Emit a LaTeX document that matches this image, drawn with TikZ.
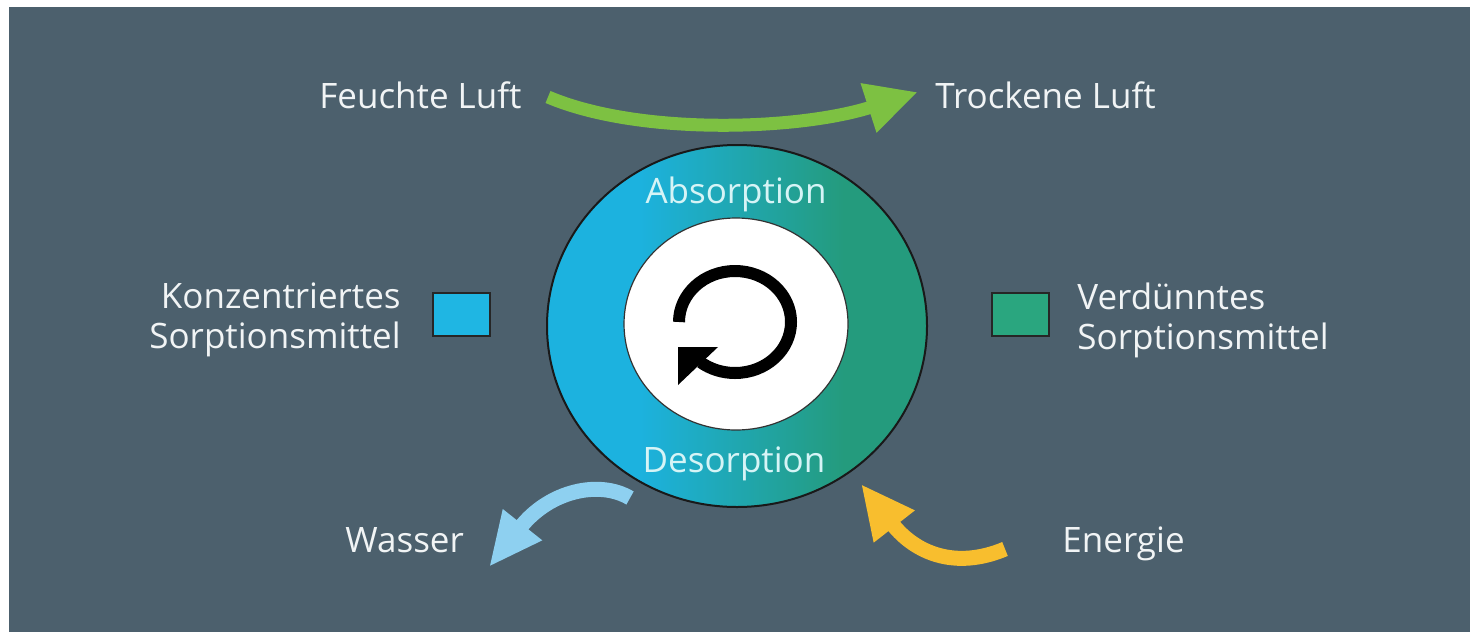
\documentclass[tikz,border=0pt]{standalone}
\usepackage{fontspec}
\setmainfont{Open Sans}
\usetikzlibrary{shapes.geometric,arrows.meta}

\definecolor{bgslate}{HTML}{4C606D}
\definecolor{labeltext}{HTML}{F1F4F5}
\definecolor{ringtext}{HTML}{D6F4F6}
\definecolor{ringblue}{HTML}{1CB2DF}
\definecolor{ringgreen}{HTML}{249B7D}
\definecolor{conc}{HTML}{1FB6E3}
\definecolor{dilute}{HTML}{2AA67F}
\definecolor{airgreen}{HTML}{7DC142}
\definecolor{waterblue}{HTML}{8ED0F0}
\definecolor{energyyellow}{HTML}{F8BE2E}

% blue-to-green ring fill; the path spans 25bp..75bp of the shading
\pgfdeclarehorizontalshading{ringshade}{100bp}{%
  color(0bp)=(ringblue); color(37bp)=(ringblue);
  color(64bp)=(ringgreen); color(100bp)=(ringgreen)}

\tikzset{
  lbl/.style={text=labeltext, inner sep=0pt, font=\fontsize{17.5}{20}\selectfont},
  phase/.style={text=ringtext, inner sep=0pt, font=\fontsize{17.5}{20}\selectfont},
  swatch/.style={draw=black!85, line width=1pt, minimum width=28.5pt, minimum height=21.5pt, inner sep=0pt},
}

\begin{document}
\begin{tikzpicture}[x=0.5pt,y=-0.5pt]
\useasboundingbox (0,0) rectangle (1470,632);
\fill[white] (0,0) rectangle (1470,632);
\fill[bgslate] (9,7) rectangle (1470,632);

% air stream
\node[lbl, anchor=base east] (humid) at (522,108) {Feuchte Luft};
\node[lbl, anchor=base west] (dry) at (935,108) {Trockene Luft};
\coordinate (airIn) at (548,97);
\coordinate (airOut) at (918,92);
\draw[airgreen, line width=6.5pt, -{Triangle[length=26pt,width=24pt]}]
  (airIn) .. controls (640,136) and (800,130) .. (airOut);

% sorption wheel
\node[ellipse, shading=ringshade, draw=black!90, line width=1pt,
      minimum width=190pt, minimum height=181pt, inner sep=0pt] (ring) at (737,326) {};
\node[ellipse, fill=white, draw=black!80, line width=0.6pt,
      minimum width=112pt, minimum height=106pt, inner sep=0pt] (core) at (736,324) {};
\node[phase, anchor=base] (abs) at (736,203) {Absorption};
\node[phase, anchor=base] (des) at (734,472) {Desorption};

% rotation symbol
\draw[black, line width=6pt] (735,322) ++(180:56 and 51)
  arc[start angle=180, end angle=488, x radius=56, y radius=51];
\fill[black] (678,347) -- (718,347) -- (678,385) -- cycle;

% legend
\node[swatch, fill=conc] (concBox) at (461.5,314.5) {};
\node[lbl, align=right, anchor=east] (concTxt) at (401,320) {Konzentriertes\\Sorptionsmittel};
\node[swatch, fill=dilute] (diluteBox) at (1020,314.5) {};
\node[lbl, align=left, anchor=west] (diluteTxt) at (1077,320) {Verdünntes\\Sorptionsmittel};

% water out, energy in
\node[lbl, anchor=base west] (water) at (345,552) {Wasser};
\node[lbl, anchor=base west] (energy) at (1062,552) {Energie};
\coordinate (waterStart) at (630,498);
\coordinate (waterEnd) at (489,567);
\draw[waterblue, line width=7.5pt, -{Triangle[length=27pt,width=23pt]}]
  (waterStart) .. controls (600,480) and (550,490) .. (waterEnd);
\coordinate (energyStart) at (1005,549);
\coordinate (energyEnd) at (861,484);
\draw[energyyellow, line width=7.5pt, -{Triangle[length=27pt,width=24pt]}]
  (energyStart) .. controls (955,570) and (915,553) .. (energyEnd);
\end{tikzpicture}
\end{document}
